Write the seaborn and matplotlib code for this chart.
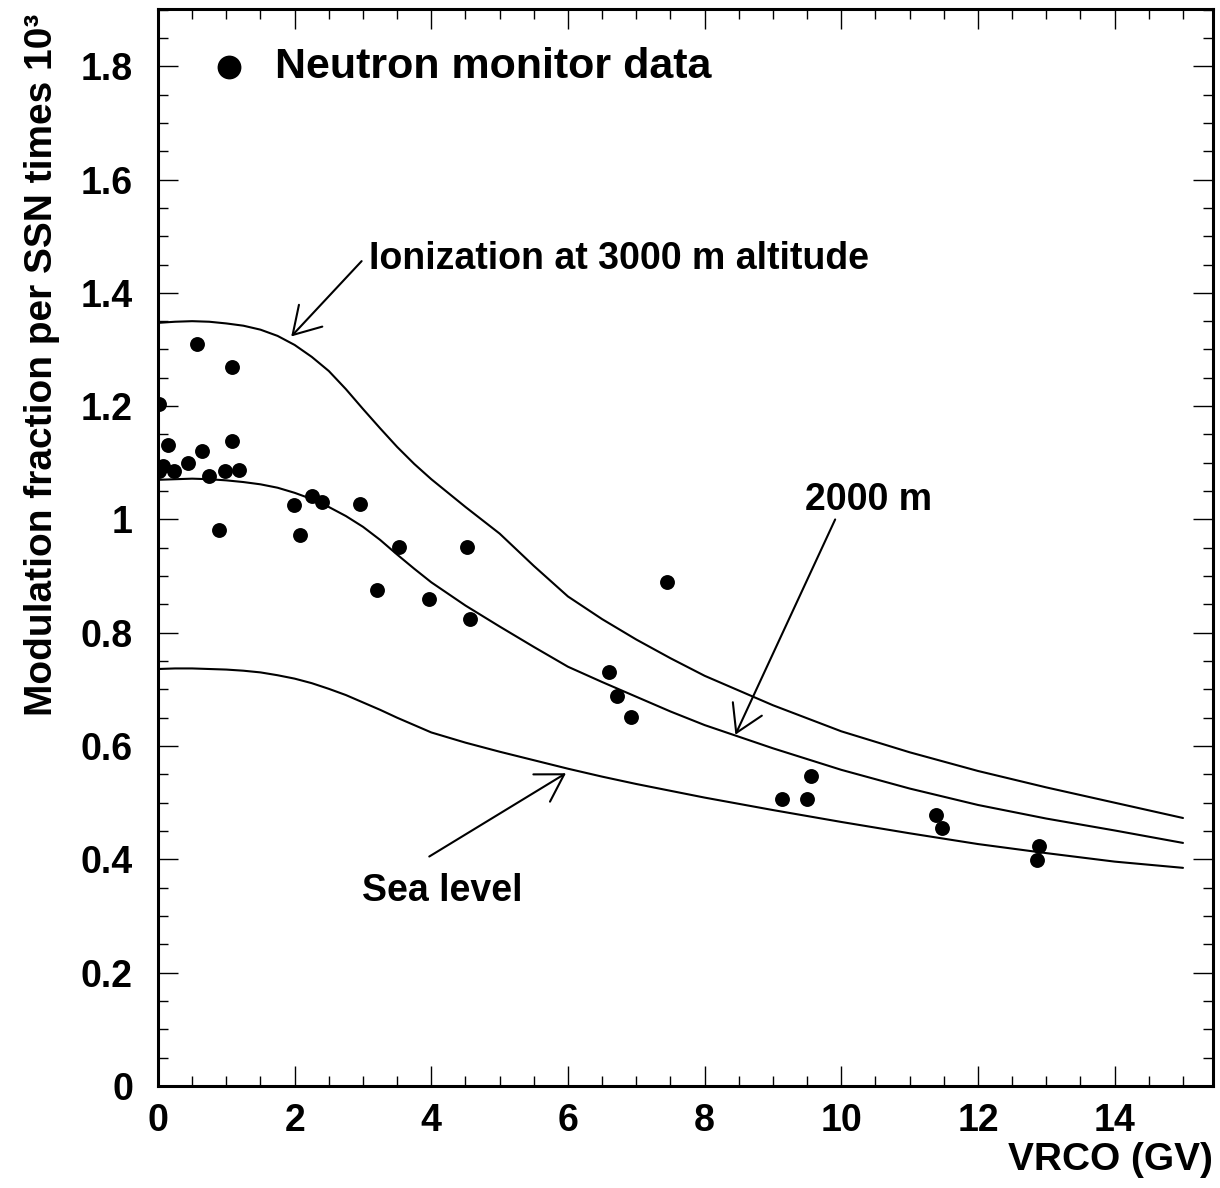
import numpy as np
import pandas as pd
import matplotlib
matplotlib.use("Agg")
import matplotlib.pyplot as plt
import seaborn as sns
from matplotlib.ticker import MultipleLocator, FormatStrFormatter
from matplotlib.patches import ArrowStyle

# ---- data ----
curve_x = [0, 0.25, 0.5, 0.75, 1, 1.25, 1.5, 1.75, 2, 2.25, 2.5, 2.75, 3, 3.25, 3.5, 3.75,
           4, 4.5, 5, 5.5, 6, 6.5, 7, 7.5, 8, 9, 10, 11, 12, 13, 14, 15]
alt3000 = [1.347, 1.349, 1.350, 1.349, 1.346, 1.342, 1.335, 1.324, 1.308, 1.287, 1.262,
           1.230, 1.195, 1.161, 1.128, 1.098, 1.071, 1.022, 0.975, 0.918, 0.864, 0.824,
           0.788, 0.755, 0.724, 0.672, 0.626, 0.589, 0.556, 0.527, 0.500, 0.473]
alt2000 = [1.070, 1.071, 1.072, 1.071, 1.069, 1.066, 1.062, 1.056, 1.047, 1.036, 1.022,
           1.006, 0.987, 0.964, 0.938, 0.913, 0.889, 0.848, 0.811, 0.775, 0.740, 0.713,
           0.687, 0.661, 0.637, 0.596, 0.558, 0.525, 0.496, 0.472, 0.451, 0.429]
sea_level = [0.736, 0.737, 0.737, 0.736, 0.735, 0.733, 0.730, 0.725, 0.719, 0.711, 0.701,
             0.690, 0.677, 0.664, 0.650, 0.637, 0.624, 0.606, 0.590, 0.575, 0.560, 0.546,
             0.533, 0.521, 0.509, 0.487, 0.466, 0.446, 0.427, 0.411, 0.396, 0.385]

nm_x = [0.01, 0.57, 1.08, 0.15, 1.08, 0.65, 0.44, 0.07, 0.01, 0.23, 0.75, 0.98, 1.19,
        0.89, 1.99, 2.26, 2.40, 2.08, 2.95, 3.53, 4.52, 3.21, 3.96, 4.56, 7.45, 6.60,
        6.71, 6.92, 9.55, 9.13, 9.50, 11.38, 11.48, 12.89, 12.87]
nm_y = [1.203, 1.309, 1.269, 1.131, 1.138, 1.120, 1.099, 1.094, 1.085, 1.085, 1.076,
        1.085, 1.087, 0.982, 1.025, 1.042, 1.030, 0.973, 1.028, 0.952, 0.952, 0.876,
        0.860, 0.825, 0.889, 0.730, 0.689, 0.652, 0.548, 0.507, 0.507, 0.479, 0.456,
        0.424, 0.398]

x_ticks = [0, 2, 4, 6, 8, 10, 12, 14]
y_ticks = [0, 0.2, 0.4, 0.6, 0.8, 1.0, 1.2, 1.4, 1.6, 1.8]

# ---- style ----
sns.set_style("ticks")
plt.rcParams['font.family'] = ['Liberation Sans', 'DejaVu Sans']
plt.rcParams['font.weight'] = 'bold'
for k in ['text.color', 'axes.labelcolor', 'xtick.color', 'ytick.color', 'axes.edgecolor']:
    plt.rcParams[k] = 'black'

fig = plt.figure(figsize=(12.2, 11.88), dpi=100)
ax = fig.add_axes([0.1295, 0.0859, 0.8648, 0.9065])

curves = pd.DataFrame({
    'x': curve_x * 3,
    'y': alt3000 + alt2000 + sea_level,
    'curve': ['3000 m'] * len(curve_x) + ['2000 m'] * len(curve_x) + ['Sea level'] * len(curve_x),
})
sns.lineplot(data=curves, x='x', y='y', units='curve', estimator=None, sort=False,
             color='black', lw=1.5, ax=ax)

sns.scatterplot(x=nm_x, y=nm_y, color='black', s=115, linewidth=0,
                label='Neutron monitor data', ax=ax, zorder=3)

ax.set_xlim(0, 15.44)
ax.set_ylim(0, 1.901)
ax.set_xticks(x_ticks)
ax.set_yticks(y_ticks)
ax.xaxis.set_minor_locator(MultipleLocator(0.5))
ax.yaxis.set_minor_locator(MultipleLocator(0.05))
ax.yaxis.set_major_formatter(FormatStrFormatter('%g'))
ax.xaxis.set_major_formatter(FormatStrFormatter('%g'))

ax.tick_params(which='both', direction='in', top=True, right=True, color='black',
               labelcolor='black')
ax.tick_params(which='major', length=14.5, width=1.0, labelsize=27)
ax.tick_params(which='minor', length=7, width=1.0)
ax.tick_params(axis='y', which='major', pad=18)
ax.tick_params(axis='x', which='major', pad=12)

for sp in ax.spines.values():
    sp.set_linewidth(2.2)
    sp.set_color('black')

ax.set_xlabel('VRCO (GV)', fontsize=28, fontweight='bold', loc='right', color='black')
ax.xaxis.set_label_coords(1.0, -0.052)
ax.set_ylabel('Modulation fraction per SSN times 10³', fontsize=28, fontweight='bold',
              loc='top', color='black')
ax.yaxis.set_label_coords(-0.093, 0.996)

leg = ax.legend(loc='center left', bbox_to_anchor=(0.0469, 0.946), frameon=False,
                markerscale=1.6, handlelength=1.0, handletextpad=0.57,
                borderpad=0, borderaxespad=0,
                prop=dict(family='Liberation Sans', weight='bold', size=31))
for t in leg.get_texts():
    t.set_color('black')

txt_kw = dict(fontsize=27, fontweight='bold', ha='left', va='baseline', color='black')
ax.text(3.09, 1.442, 'Ionization at 3000 m altitude', **txt_kw)
ax.text(9.47, 1.016, '2000 m', **txt_kw)
ax.text(2.98, 0.327, 'Sea level', **txt_kw)

arrow_kw = dict(arrowstyle=ArrowStyle('->', head_length=1.9, head_width=1.15),
                mutation_scale=10, color='black', lw=1.5, shrinkA=0, shrinkB=0)
ax.annotate('', xy=(1.95, 1.323), xytext=(2.98, 1.456), arrowprops=arrow_kw)
ax.annotate('', xy=(8.45, 0.620), xytext=(9.91, 1.000), arrowprops=arrow_kw)
ax.annotate('', xy=(5.97, 0.552), xytext=(3.97, 0.405), arrowprops=arrow_kw)

fig.savefig('out.png', dpi=100)
